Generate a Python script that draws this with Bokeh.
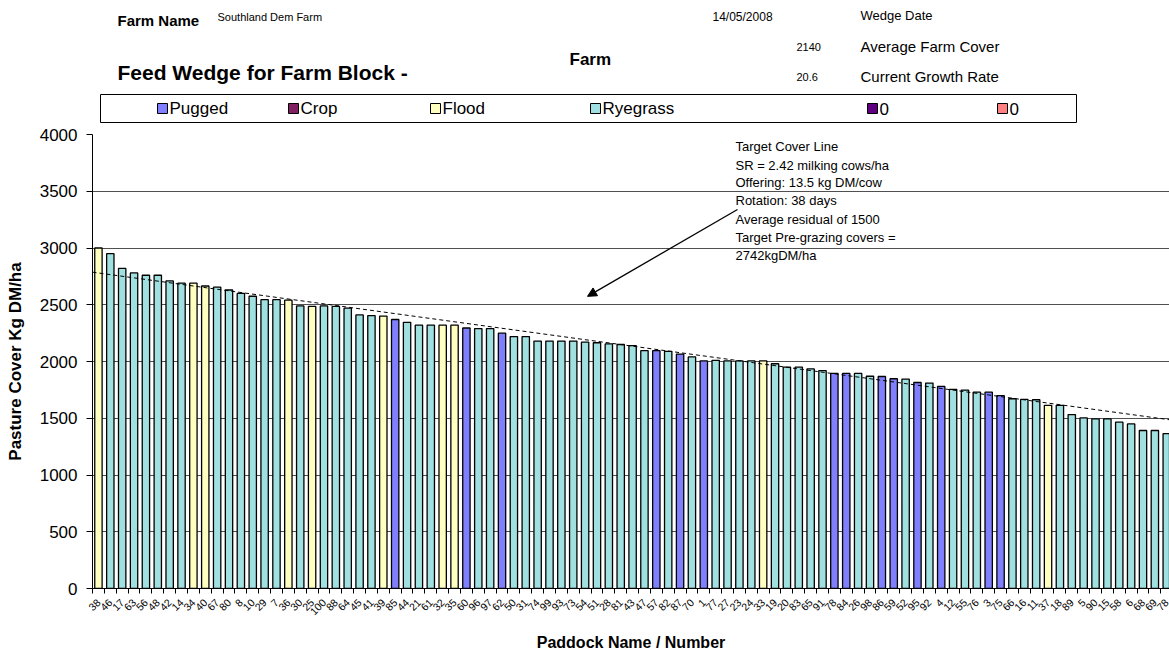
import math
from bokeh.plotting import figure
from bokeh.layouts import column
from bokeh.models import Range1d, FixedTicker, ColumnDataSource, Arrow, NormalHead
from bokeh.embed import file_html
from bokeh.resources import INLINE
from bokeh.core.properties import value

# ---------------- data ----------------
paddocks = ["38", "46", "17", "63", "56", "48", "42", "14", "34", "40", "67", "80", "8", "10", "29", "7",
            "36", "30", "25", "100", "88", "64", "45", "41", "39", "85", "44", "21", "61", "32", "35", "60",
            "96", "97", "62", "50", "31", "74", "99", "93", "73", "54", "51", "28", "81", "43", "47", "57",
            "82", "87", "70", "1", "77", "27", "23", "24", "33", "19", "20", "83", "65", "91", "78", "84",
            "26", "98", "86", "59", "52", "95", "92", "4", "12", "55", "76", "3", "75", "66", "16", "11",
            "37", "18", "89", "5", "90", "15", "58", "6", "68", "69", "78"]

covers = [3000, 2950, 2820, 2780, 2760, 2760, 2710, 2690, 2690, 2665, 2655, 2630, 2600, 2575, 2545, 2545,
          2540, 2490, 2485, 2490, 2485, 2470, 2410, 2405, 2400, 2370, 2345, 2320, 2320, 2320, 2320, 2295,
          2290, 2290, 2250, 2220, 2220, 2180, 2180, 2180, 2180, 2170, 2165, 2155, 2150, 2140, 2095, 2095,
          2090, 2065, 2040, 2005, 2010, 2005, 2005, 2005, 2005, 1980, 1950, 1950, 1935, 1920, 1895, 1895,
          1895, 1870, 1868, 1848, 1845, 1815, 1810, 1780, 1755, 1748, 1730, 1730, 1700, 1672, 1666, 1663,
          1614, 1614, 1532, 1503, 1495, 1494, 1465, 1450, 1392, 1392, 1364]

types = ["Flood", "Ryegrass", "Ryegrass", "Ryegrass", "Ryegrass", "Ryegrass", "Ryegrass", "Ryegrass",
         "Flood", "Flood", "Ryegrass", "Ryegrass", "Ryegrass", "Ryegrass", "Ryegrass", "Ryegrass",
         "Flood", "Ryegrass", "Flood", "Ryegrass", "Ryegrass", "Ryegrass", "Ryegrass", "Ryegrass",
         "Flood", "Pugged", "Ryegrass", "Ryegrass", "Ryegrass", "Flood", "Flood", "Pugged",
         "Ryegrass", "Ryegrass", "Pugged", "Ryegrass", "Ryegrass", "Ryegrass", "Ryegrass", "Ryegrass",
         "Ryegrass", "Ryegrass", "Ryegrass", "Ryegrass", "Ryegrass", "Ryegrass", "Ryegrass", "Pugged",
         "Ryegrass", "Pugged", "Ryegrass", "Pugged", "Ryegrass", "Ryegrass", "Ryegrass", "Ryegrass",
         "Flood", "Ryegrass", "Ryegrass", "Ryegrass", "Ryegrass", "Ryegrass", "Pugged", "Pugged",
         "Ryegrass", "Ryegrass", "Pugged", "Pugged", "Ryegrass", "Pugged", "Ryegrass", "Pugged",
         "Ryegrass", "Ryegrass", "Ryegrass", "Pugged", "Pugged", "Ryegrass", "Ryegrass", "Ryegrass",
         "Flood", "Ryegrass", "Ryegrass", "Ryegrass", "Ryegrass", "Ryegrass", "Ryegrass", "Ryegrass",
         "Ryegrass", "Ryegrass", "Ryegrass"]

legend_names = ["Pugged", "Crop", "Flood", "Ryegrass", "0", "0"]
legend_keys = ["Pugged", "Crop", "Flood", "Ryegrass", "Other1", "Other2"]
legend_colors = ["#8080FF", "#802060", "#FFFFC0", "#A0E0E0", "#600080", "#FF8080"]

y_ticks = [0, 500, 1000, 1500, 2000, 2500, 3000, 3500, 4000]
target_line = [2787, 1483]   # target cover at start / end of the wedge

farm_name = "Southland Dem Farm"
wedge_date = "14/05/2008"
avg_cover = "2140"
growth_rate = "20.6"

annotation = ["Target Cover Line", "SR = 2.42 milking cows/ha", "Offering: 13.5 kg DM/cow",
              "Rotation: 38 days", "Average residual of 1500", "Target Pre-grazing covers =",
              "2742kgDM/ha"]

FONT = "Liberation Sans"
W = 1169
HDR_H = 123
MAIN_H = 653 - HDR_H
LEFT = 92
BAR_PX = 11.87
FRAME_TOP = 134
FRAME_BOT = 594
PX_PER_UNIT = (FRAME_BOT - FRAME_TOP) / 4000.0

color_map = dict(zip(legend_keys, legend_colors))

# ---------------- header (data units == page pixels) ----------------
hdr = figure(width=W, height=HDR_H, x_range=Range1d(LEFT, W), y_range=Range1d(HDR_H, 0),
             toolbar_location=None, output_backend="svg", x_axis_type=None, y_axis_type=None,
             min_border_left=LEFT, min_border_right=0, min_border_top=0, min_border_bottom=0)
hdr.grid.visible = False
hdr.outline_line_color = None


def htext(x, y, s, size, bold=False, align="left"):
    hdr.text(x=[x], y=[y], text=[s], text_font=value(FONT), text_font_size=size,
             text_font_style="bold" if bold else "normal", text_baseline="middle",
             text_align=align, text_color="black")


htext(117, 20, "Farm Name", "15px", True)
htext(217, 16, farm_name, "11px")
htext(117, 72, "Feed Wedge for Farm Block -", "21px", True)
htext(569, 59, "Farm", "17px", True)
htext(712, 16, wedge_date, "12px")
htext(860, 15, "Wedge Date", "13px")
htext(796, 46, avg_cover, "11px")
htext(860, 46, "Average Farm Cover", "15px")
htext(796, 76, growth_rate, "11px")
htext(860, 76, "Current Growth Rate", "15px")

# legend box
hdr.quad(left=[100], right=[1076], top=[94], bottom=[122],
         fill_color="white", line_color="black", line_width=1)
leg_x = [157, 288, 430, 590, 867, 997]
for lx, name, col in zip(leg_x, legend_names, legend_colors):
    hdr.quad(left=[lx], right=[lx + 10], top=[103], bottom=[113],
             fill_color=col, line_color="black", line_width=1)
    htext(lx + 12, 108, name, "17px")

# ---------------- main chart ----------------
n = len(covers)
xs = list(range(1, n + 1))
src = ColumnDataSource(dict(x=xs, cover=covers, color=[color_map[t] for t in types]))

frame_w = W - LEFT
p = figure(width=W, height=MAIN_H, x_range=Range1d(0.5, 0.5 + frame_w / BAR_PX),
           y_range=Range1d(0, 4000), toolbar_location=None, output_backend="svg",
           min_border_left=LEFT, min_border_right=0, min_border_top=FRAME_TOP - HDR_H,
           min_border_bottom=MAIN_H - (FRAME_BOT - HDR_H))
p.outline_line_color = None
p.xgrid.visible = False
p.ygrid.ticker = FixedTicker(ticks=y_ticks)
p.ygrid.grid_line_color = "#505050"
p.ygrid.grid_line_width = 1

p.vbar(x="x", top="cover", width=0.62, fill_color="color", line_color="black",
       line_width=1.3, source=src)

p.line(x=[0.5, n + 0.5], y=target_line, line_color="black", line_dash="4 3", line_width=1)


def dx(px):
    return 0.5 + (px - LEFT) / BAR_PX


def dy(py):
    return (FRAME_BOT - py) / PX_PER_UNIT


# annotation
ann_y = [dy(py) for py in [146, 165, 183, 201, 220, 238, 257]]
p.text(x=[dx(735)] * len(annotation), y=ann_y, text=annotation,
       text_font=value(FONT), text_font_size="13px", text_baseline="middle", text_align="left",
       text_color="black")
p.add_layout(Arrow(end=NormalHead(size=9, fill_color="black", line_color="black"),
                   x_start=dx(737), y_start=dy(210), x_end=dx(587), y_end=dy(298),
                   line_color="black", line_width=1.3))

# x axis
xa = p.xaxis[0]
xa.ticker = FixedTicker(ticks=xs, minor_ticks=[i + 0.5 for i in range(0, n + 1)])
xa.major_label_overrides = {i + 1: lab for i, lab in enumerate(paddocks)}
xa.major_label_orientation = math.pi / 4
xa.major_label_text_font = FONT
xa.major_label_text_font_size = "10.5px"
xa.major_label_text_color = "black"
xa.major_tick_line_color = None
xa.minor_tick_line_color = "black"
xa.minor_tick_out = 5
xa.minor_tick_in = 0
xa.major_label_standoff = 6
xa.axis_line_color = "black"
xa.axis_label = "Paddock Name / Number"
xa.axis_label_text_font = FONT
xa.axis_label_text_font_size = "16px"
xa.axis_label_text_font_style = "bold"
xa.axis_label_text_color = "black"
xa.axis_label_standoff = 12

ya = p.yaxis[0]
ya.ticker = FixedTicker(ticks=y_ticks)
ya.major_label_text_font = FONT
ya.major_label_text_font_size = "17px"
ya.major_label_text_color = "black"
ya.major_tick_out = 6
ya.major_tick_in = 0
ya.minor_tick_line_color = None
ya.major_label_standoff = 9
ya.axis_line_color = "black"
ya.axis_label = "Pasture Cover Kg DM/ha"
ya.axis_label_text_font = FONT
ya.axis_label_text_font_size = "17px"
ya.axis_label_text_font_style = "bold"
ya.axis_label_text_color = "black"
ya.axis_label_standoff = 12

layout = column(hdr, p, spacing=0)
open("out.html", "w").write(file_html(layout, INLINE))
